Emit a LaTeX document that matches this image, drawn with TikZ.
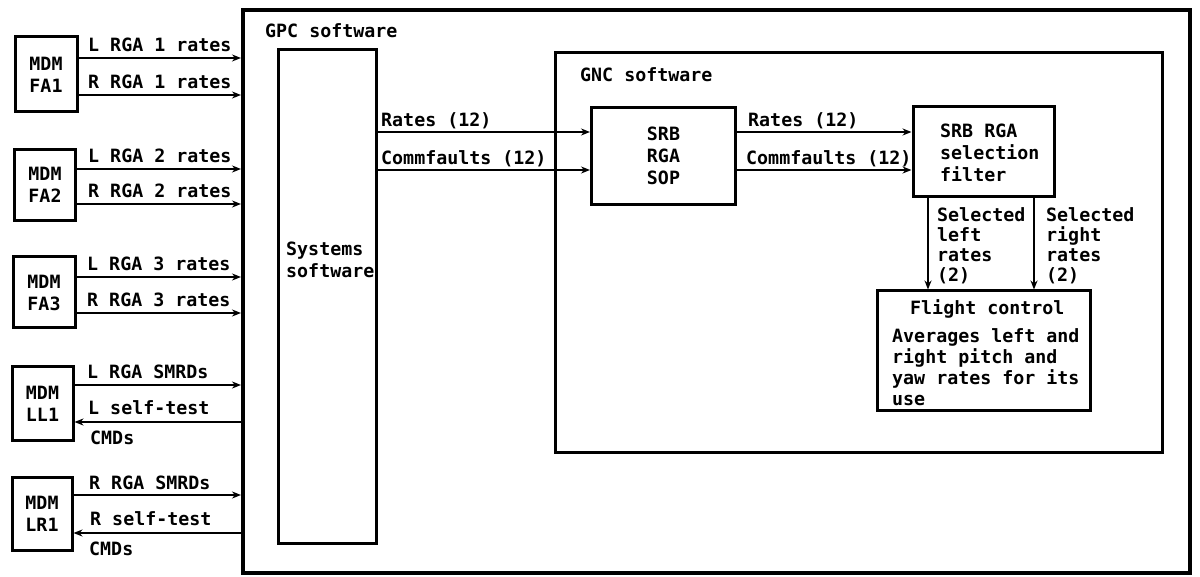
\documentclass[tikz,border=0pt]{standalone}
\usepackage{fontspec}
\setmonofont{DejaVu Sans Mono}
\usetikzlibrary{arrows.meta}
\begin{document}
\begin{tikzpicture}[x=1pt,y=-1pt,
  font=\ttfamily\bfseries\fontsize{18.3}{22}\selectfont,
  box/.style={draw, line width=3pt, inner sep=0pt, align=center},
  arr/.style={line width=2.4pt, -{Stealth[length=9pt,width=7pt]}},
  lbl/.style={anchor=base west, inner sep=0pt},
  blk/.style={anchor=north west, inner sep=0pt, align=left}]
\useasboundingbox (0,0) rectangle (1200,577);
% outer GPC box
\node[box, line width=4pt, minimum width=947pt, minimum height=563pt] (gpc) at (716.5,291.5) {};
\node[lbl] (gpclbl) at (265,38) {GPC software};
% systems software
\node[box, minimum width=98pt, minimum height=493pt] (sys) at (327,296.5) {};
\node[blk] (syslbl) at (286,242) {Systems\\software};
% GNC box
\node[box, minimum width=607pt, minimum height=399pt] (gnc) at (858.5,252.5) {};
\node[lbl] (gnclbl) at (580,82) {GNC software};
% inner boxes
\node[box, minimum width=144pt, minimum height=97pt] (sop) at (663.5,156) {SRB\\RGA\\SOP};
\node[box, minimum width=141pt, minimum height=90pt] (filt) at (983.5,152) {};
\node[blk] (filtlbl) at (940,124) {SRB RGA\\selection\\filter};
\node[box, minimum width=213pt, minimum height=119pt] (fc) at (983.5,350.5) {};
\node[lbl] (fctitle) at (910,315) {Flight control};
\node[blk, font=\ttfamily\bfseries\fontsize{18.3}{21}\selectfont] (fcbody) at (892,328) {Averages left and\\right pitch and\\yaw rates for its\\use};
% MDM boxes
\node[box, minimum width=62pt, minimum height=75pt] (fa1) at (46,74.5) {MDM\\FA1};
\node[box, minimum width=61pt, minimum height=71pt] (fa2) at (45,185) {MDM\\FA2};
\node[box, minimum width=62pt, minimum height=71pt] (fa3) at (44,292.5) {MDM\\FA3};
\node[box, minimum width=61pt, minimum height=73pt] (ll1) at (42.5,403.5) {MDM\\LL1};
\node[box, minimum width=60pt, minimum height=73pt] (lr1) at (42,513.5) {MDM\\LR1};
% MDM connectors
\draw[arr] (fa1.east |- 0,58) -- (gpc.west |- 0,58);
\node[lbl] (l1) at (88,52) {L RGA 1 rates};
\draw[arr] (fa1.east |- 0,95) -- (gpc.west |- 0,95);
\node[lbl] (r1) at (88,89) {R RGA 1 rates};
\draw[arr] (fa2.east |- 0,169) -- (gpc.west |- 0,169);
\node[lbl] (l2) at (88,163) {L RGA 2 rates};
\draw[arr] (fa2.east |- 0,204) -- (gpc.west |- 0,204);
\node[lbl] (r2) at (88,198) {R RGA 2 rates};
\draw[arr] (fa3.east |- 0,277) -- (gpc.west |- 0,277);
\node[lbl] (l3) at (87,271) {L RGA 3 rates};
\draw[arr] (fa3.east |- 0,313) -- (gpc.west |- 0,313);
\node[lbl] (r3) at (87,307) {R RGA 3 rates};
\draw[arr] (ll1.east |- 0,385) -- (gpc.west |- 0,385);
\node[lbl] (ls) at (87,379) {L RGA SMRDs};
\draw[arr] (gpc.west |- 0,422) -- (ll1.east |- 0,422);
\node[lbl] (lst) at (88,414) {L self-test};
\node[lbl] (lcmd) at (90,444) {CMDs};
\draw[arr] (lr1.east |- 0,495) -- (gpc.west |- 0,495);
\node[lbl] (rs) at (89,489) {R RGA SMRDs};
\draw[arr] (gpc.west |- 0,533) -- (lr1.east |- 0,533);
\node[lbl] (rst) at (90,525) {R self-test};
\node[lbl] (rcmd) at (89,555) {CMDs};
% systems -> SOP
\draw[arr] (sys.east |- 0,132) -- (sop.west |- 0,132);
\node[lbl] (rt1) at (381,127) {Rates (12)};
\draw[arr] (sys.east |- 0,170) -- (sop.west |- 0,170);
\node[lbl] (cf1) at (381,165) {Commfaults (12)};
% SOP -> filter
\draw[arr] (sop.east |- 0,132) -- (filt.west |- 0,132);
\node[lbl] (rt2) at (748,127) {Rates (12)};
\draw[arr] (sop.east |- 0,170) -- (filt.west |- 0,170);
\node[lbl] (cf2) at (746,165) {Commfaults (12)};
% filter -> flight control
\draw[arr] (filt.south -| 928,0) -- (fc.north -| 928,0);
\node[blk, font=\ttfamily\bfseries\fontsize{18.3}{20}\selectfont] (sl) at (937,207) {Selected\\left\\rates\\(2)};
\draw[arr] (filt.south -| 1034,0) -- (fc.north -| 1034,0);
\node[blk, font=\ttfamily\bfseries\fontsize{18.3}{20}\selectfont] (sr) at (1046,207) {Selected\\right\\rates\\(2)};
\end{tikzpicture}
\end{document}
